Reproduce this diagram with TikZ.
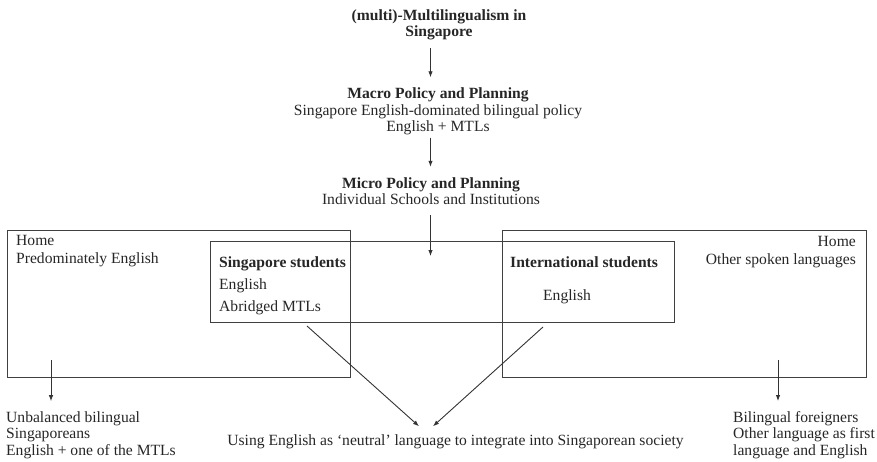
\documentclass[tikz,border=0pt]{standalone}
\usepackage{fontspec}
\setmainfont{Liberation Serif}
\usetikzlibrary{arrows.meta}

\begin{document}
\begin{tikzpicture}[x=1pt,y=-1pt,
    txt/.style={font=\fontsize{15.6}{16.5}\selectfont, inner sep=2pt, text=black!85},
    txtb/.style={txt, font=\fontsize{15.6}{16.5}\selectfont\bfseries},
    framebox/.style={draw=black!75, line width=0.9pt, inner sep=0pt},
    arr/.style={draw=black!80, line width=0.9pt, -{Latex[length=6pt,width=4.5pt]}}]
\useasboundingbox (0,0) rectangle (877,462);

\def\homeh{147pt}

% the column of policy levels
\coordinate (spine) at (430.5,0);

\node[txtb, align=center, anchor=base] (title) at (439,37) {(multi)-Multilingualism in\\Singapore};
\node[txt, align=center, anchor=base] (macro) at (438,132) {\textbf{Macro Policy and Planning}\\Singapore English-dominated bilingual policy\\English + MTLs};
\node[txt, align=center, anchor=base] (micro) at (431,205) {\textbf{Micro Policy and Planning}\\Individual Schools and Institutions};

\draw[arr] ([yshift=-5.7pt]title.south -| spine) -- ([yshift=8.7pt]macro.north -| spine);
\draw[arr] (macro.south -| spine) -- ([yshift=8.7pt]micro.north -| spine);
\coordinate (schoolin) at (430.5,256);
\draw[arr] ([yshift=-8pt]micro.south -| spine) -- (schoolin);

% homes and students
\node[framebox, anchor=north west, minimum width=343pt, minimum height=\homeh] (homeL) at (7,230) {};
\node[framebox, anchor=north west, minimum width=364pt, minimum height=\homeh] (homeR) at (502,230) {};
\node[framebox, anchor=north west, minimum width=464pt, minimum height=81pt] (school) at (210,241) {};

\node[txt, align=left, anchor=base west] (homeLtxt) at (14,263) {Home\\[1.5pt]Predominately English};
\node[txt, align=right, anchor=base east] (homeRtxt) at (858,264) {Home\\[1.5pt]Other spoken languages};
\node[txt, align=left, anchor=base west] (sgstud) at (217,311) {\textbf{Singapore students}\\[5.5pt]English\\[5.5pt]Abridged MTLs};
\node[txtb, anchor=base west] (intstud) at (508,267) {International students};
\node[txt, anchor=base west] (intenglish) at (541,300) {English};

% outcomes
\node[txt, align=left, anchor=base west] (unbal) at (4,455) {Unbalanced bilingual\\Singaporeans\\English + one of the MTLs};
\node[txt, align=left, anchor=base west] (foreign) at (731,455) {Bilingual foreigners\\Other language as first\\language and English};
\node[txt, anchor=base] (neutral) at (455.5,445) {Using English as ‘neutral’ language to integrate into Singaporean society};

\coordinate (homeLout) at (51,360);
\coordinate (homeRout) at (778,360);
\foreach \s/\t in {homeLout/unbal, homeRout/foreign}
{
    \draw[arr] (\s) -- ([yshift=7.8pt]\t.north -| \s);
}

\coordinate (sgout) at (307,326);
\coordinate (intout) at (543,327);
\draw[arr] (sgout) -- ([xshift=-36.5pt,yshift=5.7pt]neutral.north);
\draw[arr] (intout) -- ([xshift=-22.5pt,yshift=5.7pt]neutral.north);

\end{tikzpicture}
\end{document}
